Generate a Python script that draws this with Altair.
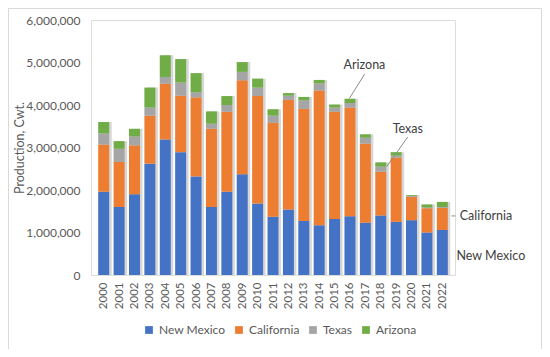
import altair as alt
import pandas as pd

years = list(range(2000, 2023))
new_mexico = [1.96, 1.60, 1.90, 2.62, 3.19, 2.89, 2.32, 1.60, 1.96, 2.37, 1.68, 1.37,
              1.54, 1.27, 1.17, 1.32, 1.38, 1.23, 1.40, 1.25, 1.29, 1.00, 1.06]
california = [1.11, 1.06, 1.15, 1.13, 1.31, 1.33, 1.86, 1.84, 1.88, 2.21, 2.53, 2.21,
              2.58, 2.64, 3.17, 2.52, 2.56, 1.86, 1.03, 1.51, 0.55, 0.57, 0.52]
texas = [0.26, 0.31, 0.21, 0.19, 0.16, 0.31, 0.12, 0.12, 0.16, 0.20, 0.20, 0.17,
         0.10, 0.20, 0.17, 0.10, 0.11, 0.14, 0.12, 0.05, 0.02, 0.02, 0.02]
arizona = [0.27, 0.18, 0.18, 0.47, 0.51, 0.55, 0.45, 0.29, 0.21, 0.23, 0.21, 0.15,
           0.06, 0.08, 0.08, 0.07, 0.10, 0.08, 0.10, 0.08, 0.02, 0.07, 0.12]

states = ["New Mexico", "California", "Texas", "Arizona"]
colors = ["#4472C4", "#ED7D31", "#A5A5A5", "#70AD47"]
series = [new_mexico, california, texas, arizona]
y_ticks = [0, 1000000, 2000000, 3000000, 4000000, 5000000, 6000000]

# annotation labels (data units)
ann_center_text = ["Arizona", "Texas"]
ann_center_x = [2016.94, 2019.76]
ann_center_y = [4.94e6, 3.44e6]
ann_left_text = ["California", "New Mexico"]
ann_left_x = [2023.13, 2022.92]
ann_left_y = [1.395e6, 0.447e6]
# leader lines
line_x1 = [2016.96, 2019.76, 2022.60]
line_y1 = [4.73e6, 3.25e6, 1.39e6]
line_x2 = [2015.97, 2018.39, 2022.85]
line_y2 = [4.16e6, 2.55e6, 1.39e6]

rows = []
for s_i, (name, vals) in enumerate(zip(states, series)):
    for yr, v in zip(years, vals):
        rows.append({"Year": yr, "State": name, "Value": round(v * 1e6), "ord": s_i})
df = pd.DataFrame(rows)
tot = pd.DataFrame({"Year": years,
                    "Total": [round(sum(t) * 1e6) for t in zip(*series)]})
ann_c = pd.DataFrame({"t": ann_center_text, "x": ann_center_x, "y": ann_center_y})
ann_l = pd.DataFrame({"t": ann_left_text, "x": ann_left_x, "y": ann_left_y})
lines = pd.DataFrame({"x1": line_x1, "y1": line_y1, "x2": line_x2, "y2": line_y2})

FONT = "Lato"
xscale = alt.Scale(domain=[1999.5, 2022.5], nice=False, zero=False)
yscale = alt.Scale(domain=[0, 6000000], nice=False)
YT = "Production, Cwt."

x_axis = alt.Axis(values=years, format="d", labelAngle=-90, labelPadding=7,
                  ticks=False, domain=False, grid=False, labelFlush=False,
                  labelOverlap=False, labelFontSize=11.5, labelColor="#595959",
                  labelFont=FONT)
y_axis = alt.Axis(values=y_ticks, format=",.0f", ticks=False, domain=False, grid=False,
                  labelPadding=11, labelFontSize=12, labelColor="#595959",
                  labelFont=FONT, titleFont=FONT, titleFontSize=12.5,
                  titleFontWeight="normal", titleColor="#595959",
                  titleX=-72, titleBaseline="middle")


def X(field):
    return alt.X(field, scale=xscale, title=None, axis=x_axis)


def Y(field, **kw):
    return alt.Y(field, scale=yscale, title=YT, axis=y_axis, **kw)


shadow = alt.Chart(tot).mark_bar(size=11, xOffset=2.5, color="#c4c4c4", opacity=0.7).encode(
    x=X("Year:Q"), y=Y("Total:Q"),
)

bars = alt.Chart(df).mark_bar(size=11).encode(
    x=X("Year:Q"),
    y=Y("Value:Q", stack="zero"),
    color=alt.Color("State:N", scale=alt.Scale(domain=states, range=colors),
                    legend=alt.Legend(title=None, orient="none", direction="horizontal",
                                      legendX=52, legendY=304, symbolType="square",
                                      symbolSize=60, symbolStrokeWidth=0,
                                      labelFont=FONT, labelFontSize=12,
                                      labelColor="#595959", columnPadding=7,
                                      labelOffset=4)),
    order=alt.Order("ord:Q", sort="ascending"),
)

rules = alt.Chart(lines).mark_rule(color="#8c8c8c", strokeWidth=1).encode(
    x=X("x1:Q"), y=Y("y1:Q"), x2="x2:Q", y2="y2:Q",
)

txt_c = alt.Chart(ann_c).mark_text(font=FONT, fontSize=12.5, color="#404040",
                                   align="center", baseline="middle").encode(
    x=X("x:Q"), y=Y("y:Q"), text="t:N")

txt_l = alt.Chart(ann_l).mark_text(font=FONT, fontSize=12.5, color="#404040",
                                   align="left", baseline="middle").encode(
    x=X("x:Q"), y=Y("y:Q"), text="t:N")

border = alt.Chart(pd.DataFrame({"a": [0]})).mark_rect(
    fill="transparent", stroke="#d9d9d9", strokeWidth=1).encode(
    x=alt.value(-82.5), x2=alt.value(450.5), y=alt.value(-11.5), y2=alt.value(329.5))

chart = alt.layer(shadow, bars, rules, txt_c, txt_l, border).properties(
    width=364, height=255,
    autosize=alt.AutoSizeParams(type="none"),
    padding={"left": 83, "top": 12, "right": 87, "bottom": 74},
).configure_view(strokeWidth=0).configure(background="white")

chart.save("out.html", embed_options={"renderer": "svg", "actions": False})
